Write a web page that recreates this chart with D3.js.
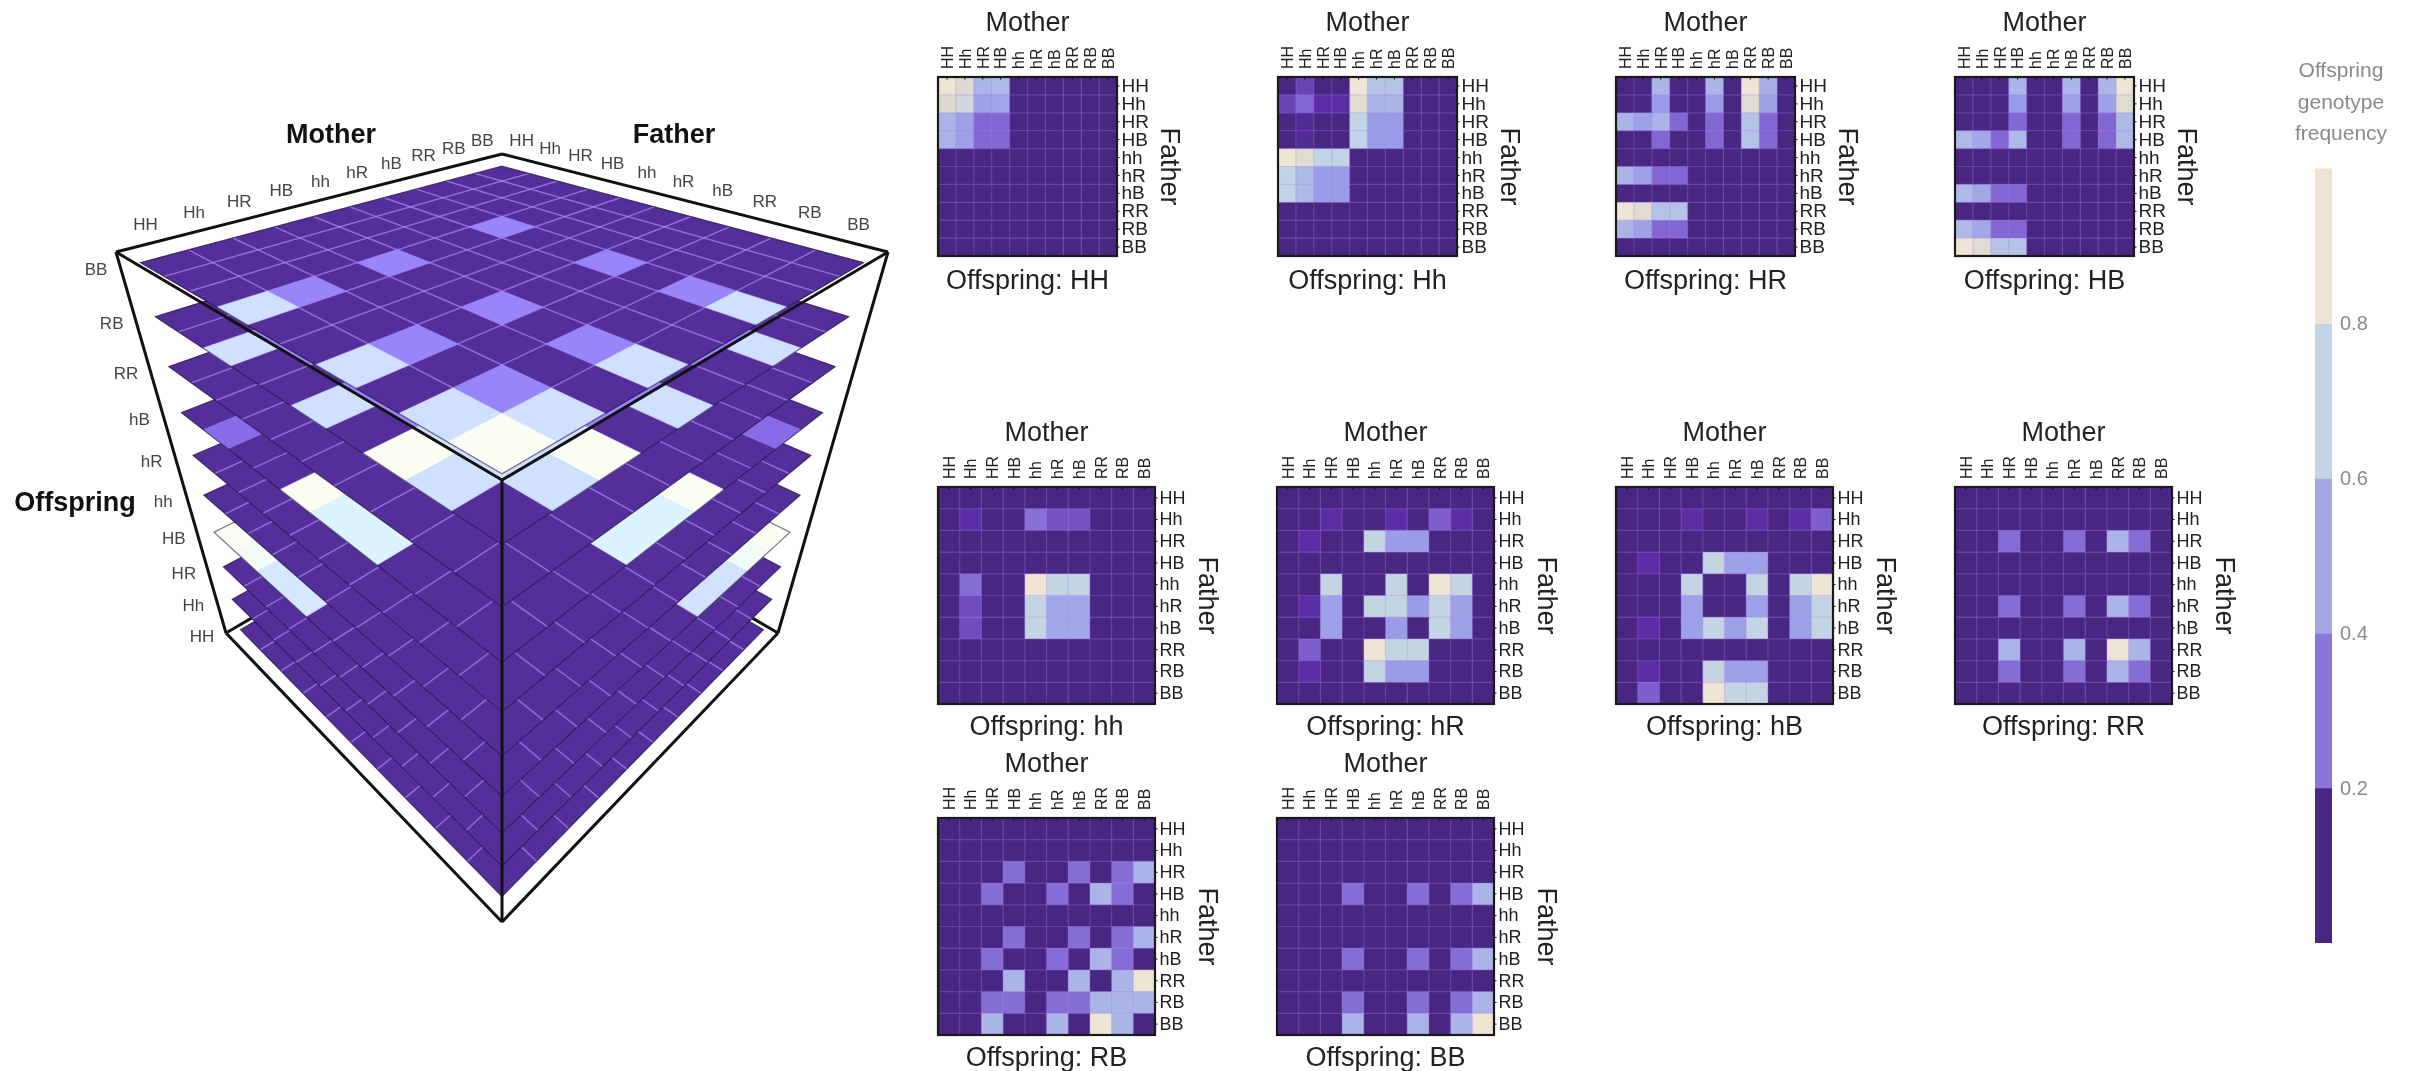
<!DOCTYPE html>
<html>
<head>
<meta charset="utf-8">
<script src="https://cdnjs.cloudflare.com/ajax/libs/d3/7.8.5/d3.min.js"></script>
<style>
    html, body { margin: 0; background: #fff; }
    svg { display: block; font-family: "Liberation Sans", Arial, sans-serif; filter: blur(.6px); }
</style>
</head>
<body>
<div id="chart"></div>
<script>
const genotypes = ["HH", "Hh", "HR", "HB", "hh", "hR", "hB", "RR", "RB", "BB"]
const legendTicks = [0.2, 0.4, 0.6, 0.8]

// offspring frequency: rows = father, columns = mother
const freqHH = [
    [1, .82, .5, .52, 0, 0, 0, 0, 0, 0],
    [.82, .7, .42, .44, 0, 0, 0, 0, 0, 0],
    [.5, .42, .25, .25, 0, 0, 0, 0, 0, 0],
    [.5, .42, .25, .25, 0, 0, 0, 0, 0, 0],
    [0, 0, 0, 0, 0, 0, 0, 0, 0, 0],
    [0, 0, 0, 0, 0, 0, 0, 0, 0, 0],
    [0, 0, 0, 0, 0, 0, 0, 0, 0, 0],
    [0, 0, 0, 0, 0, 0, 0, 0, 0, 0],
    [0, 0, 0, 0, 0, 0, 0, 0, 0, 0],
    [0, 0, 0, 0, 0, 0, 0, 0, 0, 0]
]
const freqHh = [
    [0, .15, 0, 0, 1, .55, .55, 0, 0, 0],
    [.15, .25, .1, .1, .85, .5, .5, 0, 0, 0],
    [0, .05, 0, 0, .6, .4, .4, 0, 0, 0],
    [0, .05, 0, 0, .6, .4, .4, 0, 0, 0],
    [1, .85, .6, .6, 0, 0, 0, 0, 0, 0],
    [.6, .52, .4, .4, 0, 0, 0, 0, 0, 0],
    [.6, .52, .4, .4, 0, 0, 0, 0, 0, 0],
    [0, 0, 0, 0, 0, 0, 0, 0, 0, 0],
    [0, 0, 0, 0, 0, 0, 0, 0, 0, 0],
    [0, 0, 0, 0, 0, 0, 0, 0, 0, 0]
]
const freqHR = [
    [0, 0, .5, 0, 0, .5, 0, 1, .48, 0],
    [0, 0, .4, 0, 0, .4, 0, .85, .42, 0],
    [.5, .42, .5, .25, 0, .25, 0, .55, .25, 0],
    [0, 0, .25, 0, 0, .25, 0, .55, .25, 0],
    [0, 0, 0, 0, 0, 0, 0, 0, 0, 0],
    [.5, .42, .25, .25, 0, 0, 0, 0, 0, 0],
    [0, 0, 0, 0, 0, 0, 0, 0, 0, 0],
    [1, .85, .55, .55, 0, 0, 0, 0, 0, 0],
    [.5, .42, .25, .25, 0, 0, 0, 0, 0, 0],
    [0, 0, 0, 0, 0, 0, 0, 0, 0, 0]
]
const freqHB = [
    [0, 0, 0, .5, 0, 0, .5, 0, .5, 1],
    [0, 0, 0, .4, 0, 0, .42, 0, .42, .85],
    [0, 0, 0, .25, 0, 0, .25, 0, .25, .52],
    [.52, .45, .25, .52, 0, 0, .25, 0, .25, .52],
    [0, 0, 0, 0, 0, 0, 0, 0, 0, 0],
    [0, 0, 0, 0, 0, 0, 0, 0, 0, 0],
    [.52, .45, .25, .25, 0, 0, 0, 0, 0, 0],
    [0, 0, 0, 0, 0, 0, 0, 0, 0, 0],
    [.52, .45, .25, .25, 0, 0, 0, 0, 0, 0],
    [1, .85, .55, .55, 0, 0, 0, 0, 0, 0]
]
const freqhh = [
    [0, 0, 0, 0, 0, 0, 0, 0, 0, 0],
    [0, .1, 0, 0, .28, .18, .18, 0, 0, 0],
    [0, 0, 0, 0, 0, 0, 0, 0, 0, 0],
    [0, 0, 0, 0, 0, 0, 0, 0, 0, 0],
    [0, .27, 0, 0, 1, .62, .62, 0, 0, 0],
    [0, .17, 0, 0, .62, .45, .45, 0, 0, 0],
    [0, .17, 0, 0, .62, .45, .45, 0, 0, 0],
    [0, 0, 0, 0, 0, 0, 0, 0, 0, 0],
    [0, 0, 0, 0, 0, 0, 0, 0, 0, 0],
    [0, 0, 0, 0, 0, 0, 0, 0, 0, 0]
]
const freqhR = [
    [0, 0, 0, 0, 0, 0, 0, 0, 0, 0],
    [0, 0, .1, 0, 0, .1, 0, .22, .1, 0],
    [0, .1, 0, 0, .62, .4, .4, 0, 0, 0],
    [0, 0, 0, 0, 0, 0, 0, 0, 0, 0],
    [0, 0, .62, 0, 0, .62, 0, 1, .62, 0],
    [0, .1, .42, 0, .62, .62, .4, .62, .42, 0],
    [0, 0, .42, 0, 0, .4, 0, .62, .42, 0],
    [0, .22, 0, 0, 1, .62, .62, 0, 0, 0],
    [0, .1, 0, 0, .62, .4, .4, 0, 0, 0],
    [0, 0, 0, 0, 0, 0, 0, 0, 0, 0]
]
const freqhB = [
    [0, 0, 0, 0, 0, 0, 0, 0, 0, 0],
    [0, 0, 0, .1, 0, 0, .1, 0, .1, .22],
    [0, 0, 0, 0, 0, 0, 0, 0, 0, 0],
    [0, .1, 0, 0, .62, .42, .42, 0, 0, 0],
    [0, 0, 0, .62, 0, 0, .62, 0, .62, 1],
    [0, 0, 0, .42, 0, 0, .42, 0, .42, .62],
    [0, .1, 0, .42, .62, .42, .62, 0, .42, .62],
    [0, 0, 0, 0, 0, 0, 0, 0, 0, 0],
    [0, .1, 0, 0, .62, .42, .42, 0, 0, 0],
    [0, .22, 0, 0, 1, .62, .62, 0, 0, 0]
]
const freqRR = [
    [0, 0, 0, 0, 0, 0, 0, 0, 0, 0],
    [0, 0, 0, 0, 0, 0, 0, 0, 0, 0],
    [0, 0, .27, 0, 0, .27, 0, .5, .27, 0],
    [0, 0, 0, 0, 0, 0, 0, 0, 0, 0],
    [0, 0, 0, 0, 0, 0, 0, 0, 0, 0],
    [0, 0, .27, 0, 0, .27, 0, .5, .27, 0],
    [0, 0, 0, 0, 0, 0, 0, 0, 0, 0],
    [0, 0, .5, 0, 0, .5, 0, 1, .5, 0],
    [0, 0, .27, 0, 0, .27, 0, .5, .27, 0],
    [0, 0, 0, 0, 0, 0, 0, 0, 0, 0]
]
const freqRB = [
    [0, 0, 0, 0, 0, 0, 0, 0, 0, 0],
    [0, 0, 0, 0, 0, 0, 0, 0, 0, 0],
    [0, 0, 0, .27, 0, 0, .27, 0, .27, .5],
    [0, 0, .27, 0, 0, .27, 0, .5, .27, 0],
    [0, 0, 0, 0, 0, 0, 0, 0, 0, 0],
    [0, 0, 0, .27, 0, 0, .27, 0, .27, .5],
    [0, 0, .27, 0, 0, .27, 0, .5, .27, 0],
    [0, 0, 0, .5, 0, 0, .5, 0, .5, 1],
    [0, 0, .27, .27, 0, .27, .27, .5, .5, .5],
    [0, 0, .5, 0, 0, .5, 0, 1, .5, 0]
]
const freqBB = [
    [0, 0, 0, 0, 0, 0, 0, 0, 0, 0],
    [0, 0, 0, 0, 0, 0, 0, 0, 0, 0],
    [0, 0, 0, 0, 0, 0, 0, 0, 0, 0],
    [0, 0, 0, .27, 0, 0, .27, 0, .27, .5],
    [0, 0, 0, 0, 0, 0, 0, 0, 0, 0],
    [0, 0, 0, 0, 0, 0, 0, 0, 0, 0],
    [0, 0, 0, .27, 0, 0, .27, 0, .27, .5],
    [0, 0, 0, 0, 0, 0, 0, 0, 0, 0],
    [0, 0, 0, .27, 0, 0, .27, 0, .27, .5],
    [0, 0, 0, .5, 0, 0, .5, 0, .5, 1]
]
const offspringFreq = [freqHH, freqHh, freqHR, freqHB, freqhh, freqhR, freqhB, freqRR, freqRB, freqBB]

const WIDTH = 2410, HEIGHT = 1071

/* COLOURS */
const heatColor = d3.scaleLinear()
    .domain([0, .1, .2, .3, .4, .5, .6, .8, 1])
    .range(["#4a2683", "#5a2fa5", "#7a58c8", "#8a76dc", "#9a9ce8", "#aab4e6", "#c0d4e5", "#dcd9d2", "#ede4d3"])
const litColor = d3.scaleLinear()
    .domain([0, .1, .2, .27, .4, .5, .62, .85, 1])
    .range(["#542e99", "#5a33a5", "#8262df", "#9885fb", "#b0b0ff", "#d0e0ff", "#dbf4ff", "#f2fbf5", "#fbfff3"])
const legendColor = d3.scaleThreshold()
    .domain(legendTicks)
    .range(["#4a2683", "#8a76dc", "#a5a8e0", "#c0d4e5", "#ede4d3"])

const svg = d3.select("#chart")
    .append("svg")
    .attr("width", WIDTH)
    .attr("height", HEIGHT)

/* 3D CUBE */
const camera = { cx: 502, a: 276, b: -.285, c: -.285, d: 26.2, e: -452.8, f: 633 }

function project(am, af, z) {
    const h = (am - af) / 2, g = (am + af) / 2
    const w = 1 + camera.b * g + camera.c * z
    return [camera.cx + camera.a * h / w, (camera.d * g + camera.e * z + camera.f) / w]
}
const line3d = d3.line()

const layerZ = d3.scalePoint().domain(genotypes).range([.012, .98])
const inPlane = d3.scaleBand().domain(genotypes).range([-.944, .944])
const edgePlane = d3.scaleBand().domain(genotypes).range([-1, 1])

const cube = svg.append("g").attr("class", "cube")

// back edges of the box sit behind the layers
const backEdges = [
    [[-1, 1, 0], [-1, -1, 0]],
    [[1, -1, 0], [-1, -1, 0]]
]
drawEdges(backEdges, "frame-back")

offspringFreq.forEach((matrix, k) => {
    const z = layerZ(genotypes[k])
    const layer = cube.append("g").attr("class", "cube__layer")
    const cells = matrix.flatMap((row, fi) => row.map((value, mi) => ({ value, mi, fi })))

    function drawCells(subset, name) {
        layer.selectAll(`path.${name}`)
            .data(subset)
            .enter()
            .append("path")
            .attr("class", name)
            .attr("d", d => {
                const m0 = inPlane(genotypes[d.mi]), m1 = m0 + inPlane.bandwidth()
                const f0 = inPlane(genotypes[d.fi]), f1 = f0 + inPlane.bandwidth()
                return line3d([project(m0, f0, z), project(m1, f0, z), project(m1, f1, z), project(m0, f1, z)]) + "Z"
            })
            .attr("fill", d => litColor(d.value))
            .attr("stroke", d => litColor(d.value))
            .attr("stroke-width", .6)
    }

    drawCells(cells.filter(d => d.value < .15), "cell-dark")

    // grid lines go over the dark cells only, bright cells cover them
    genotypes.slice(1).forEach(g => {
        const p = inPlane(g)
        layer.append("path")
            .attr("d", line3d([project(p, -.944, z), project(p, .944, z)]))
            .attr("stroke", "rgba(180,135,255,.65)")
            .attr("stroke-width", 1.5)
        layer.append("path")
            .attr("d", line3d([project(-.944, p, z), project(.944, p, z)]))
            .attr("stroke", "rgba(180,135,255,.65)")
            .attr("stroke-width", 1.5)
    })

    drawCells(cells.filter(d => d.value >= .15), "cell-bright")

    // layer outline
    layer.append("path")
        .attr("d", line3d([project(-.944, -.944, z), project(.944, -.944, z), project(.944, .944, z), project(-.944, .944, z)]) + "Z")
        .attr("fill", "none")
        .attr("stroke", "rgba(35,20,65,.6)")
        .attr("stroke-width", 1.2)
})

const frameEdges = [
    [[-1, 1, 1], [-1, -1, 1]],
    [[-1, -1, 1], [1, -1, 1]],
    [[-1, 1, 1], [1, 1, 1]],
    [[1, -1, 1], [1, 1, 1]],
    [[1, 1, 1], [1, 1, 0]],
    [[-1, 1, 1], [-1, 1, 0]],
    [[1, -1, 1], [1, -1, 0]],
    [[-1, 1, 0], [1, 1, 0]],
    [[1, -1, 0], [1, 1, 0]]
]
drawEdges(frameEdges, "frame")

function drawEdges(edges, name) {
    cube.selectAll(`path.${name}`)
        .data(edges)
        .enter()
        .append("path")
        .attr("class", name)
        .attr("d", d => line3d(d.map(p => project(p[0], p[1], p[2]))))
        .attr("stroke", "#111")
        .attr("stroke-width", 3)
        .attr("fill", "none")
}

/* CUBE LABELS */
const cubeTick = { fill: "#444", size: 17 }

function edgeLabel(p) {
    const off = p[0] - camera.cx
    const sign = off < 0 ? -1 : 1
    return `translate(${camera.cx + off * .975 + sign * 6}, ${p[1] - 11 - 4 * Math.abs(off) / 360})`
}

cube.selectAll("text.mother-tick")
    .data(genotypes)
    .enter()
    .append("text")
    .attr("class", "mother-tick")
    .attr("transform", (d, i) => edgeLabel(project(-1, edgePlane(genotypes[9 - i]) + edgePlane.bandwidth() / 2, 1)))
    .attr("text-anchor", "middle")
    .attr("font-size", cubeTick.size)
    .attr("fill", cubeTick.fill)
    .text(d => d)

cube.selectAll("text.father-tick")
    .data(genotypes)
    .enter()
    .append("text")
    .attr("class", "father-tick")
    .attr("transform", d => edgeLabel(project(edgePlane(d) + edgePlane.bandwidth() / 2, -1, 1)))
    .attr("text-anchor", "middle")
    .attr("font-size", cubeTick.size)
    .attr("fill", cubeTick.fill)
    .text(d => d)

cube.selectAll("text.offspring-tick")
    .data(genotypes)
    .enter()
    .append("text")
    .attr("class", "offspring-tick")
    .attr("transform", d => {
        const p = project(-1, 1, layerZ(d))
        return `translate(${p[0] - 23}, ${p[1] + 12})`
    })
    .attr("text-anchor", "middle")
    .attr("font-size", cubeTick.size)
    .attr("fill", cubeTick.fill)
    .text(d => d)

const cubeTitles = [["Mother", 331, 143], ["Father", 674, 143], ["Offspring", 75, 511]]
cube.selectAll("text.cube-title")
    .data(cubeTitles)
    .enter()
    .append("text")
    .attr("class", "cube-title")
    .attr("x", d => d[1])
    .attr("y", d => d[2])
    .attr("text-anchor", "middle")
    .attr("font-size", 27)
    .attr("font-weight", "bold")
    .attr("fill", "#111")
    .text(d => d[0])

/* HEATMAP PANELS */
const panelLeft = [938, 1278, 1616, 1955, 938, 1277, 1616, 1955, 938, 1277]
const panelTop = [77, 77, 77, 77, 487, 487, 487, 487, 818, 818]
const panelSize = [179, 179, 179, 179, 217, 217, 217, 217, 217, 217]

offspringFreq.forEach((matrix, k) => drawPanel(matrix, genotypes[k], panelLeft[k], panelTop[k], panelSize[k]))

function drawPanel(matrix, name, left, top, size) {
    const x = d3.scaleBand().domain(genotypes).range([0, size])
    const y = d3.scaleBand().domain(genotypes).range([0, size])
    const panel = svg.append("g")
        .attr("class", "panel")
        .attr("transform", `translate(${left}, ${top})`)

    const cells = matrix.flatMap((row, fi) => row.map((value, mi) => ({ value, mi, fi })))
    panel.selectAll("rect")
        .data(cells)
        .enter()
        .append("rect")
        .attr("x", d => x(genotypes[d.mi]))
        .attr("y", d => y(genotypes[d.fi]))
        .attr("width", x.bandwidth() + .5)
        .attr("height", y.bandwidth() + .5)
        .attr("fill", d => heatColor(d.value))

    // grid lines
    panel.selectAll("line.grid-x")
        .data(genotypes.slice(1))
        .enter()
        .append("line")
        .attr("class", "grid-x")
        .attr("x1", d => x(d))
        .attr("x2", d => x(d))
        .attr("y1", 0)
        .attr("y2", size)
        .attr("stroke", "rgba(175,120,235,.3)")
        .attr("stroke-width", 1.2)
    panel.selectAll("line.grid-y")
        .data(genotypes.slice(1))
        .enter()
        .append("line")
        .attr("class", "grid-y")
        .attr("x1", 0)
        .attr("x2", size)
        .attr("y1", d => y(d))
        .attr("y2", d => y(d))
        .attr("stroke", "rgba(175,120,235,.3)")
        .attr("stroke-width", 1.2)

    const topAxis = panel.append("g")
        .call(d3.axisTop(x).tickSize(-2.5).tickPadding(7))
    topAxis.selectAll("text")
        .attr("transform", "rotate(-90)")
        .attr("x", 8)
        .attr("y", 0)
        .attr("dy", "0.36em")
        .attr("text-anchor", "start")
        .attr("font-size", 16)
        .attr("font-family", "Liberation Sans")
        .attr("fill", "#222")

    const rightAxis = panel.append("g")
        .attr("transform", `translate(${size}, 0)`)
        .call(d3.axisRight(y).tickSize(2.5).tickPadding(2))
    rightAxis.selectAll("text")
        .attr("font-size", size > 200 ? 18 : 19)
        .attr("font-family", "Liberation Sans")
        .attr("fill", "#222")

    topAxis.select(".domain").remove()
    rightAxis.select(".domain").remove()

    panel.append("rect")
        .attr("width", size)
        .attr("height", size)
        .attr("fill", "none")
        .attr("stroke", "#1a1a1a")
        .attr("stroke-width", 2.2)

    panel.append("text")
        .attr("x", size / 2)
        .attr("y", -46)
        .attr("text-anchor", "middle")
        .attr("font-size", 27)
        .attr("fill", "#222")
        .text("Mother")

    panel.append("text")
        .attr("transform", `translate(${size + 44}, ${size / 2}) rotate(90)`)
        .attr("text-anchor", "middle")
        .attr("font-size", 27)
        .attr("fill", "#222")
        .text("Father")

    panel.append("text")
        .attr("x", size / 2)
        .attr("y", size + (size > 200 ? 31 : 33))
        .attr("text-anchor", "middle")
        .attr("font-size", 27)
        .attr("fill", "#222")
        .text(`Offspring: ${name}`)
}

/* LEGEND */
const legendScale = d3.scaleLinear().domain([0, 1]).range([943, 168.5])
const legendEdges = [0, ...legendTicks, 1]
const legend = svg.append("g").attr("class", "legend")

legend.selectAll("rect")
    .data(d3.pairs(legendEdges))
    .enter()
    .append("rect")
    .attr("x", 2315)
    .attr("width", 17)
    .attr("y", d => legendScale(d[1]))
    .attr("height", d => legendScale(d[0]) - legendScale(d[1]))
    .attr("fill", d => legendColor((d[0] + d[1]) / 2))

const legendAxis = legend.append("g")
    .attr("transform", "translate(2332, 0)")
    .call(d3.axisRight(legendScale).tickValues(legendTicks).tickSize(0).tickPadding(8).tickFormat(d3.format(".1f")))
legendAxis.select(".domain").remove()
legendAxis.selectAll("text")
    .attr("font-size", 20)
    .attr("font-family", "Liberation Sans")
    .attr("fill", "#8a8a8a")

const legendTitle = ["Offspring", "genotype", "frequency"]
legend.selectAll("text.legend-title")
    .data(legendTitle)
    .enter()
    .append("text")
    .attr("class", "legend-title")
    .attr("x", 2341)
    .attr("y", (d, i) => 77 + i * 31.5)
    .attr("text-anchor", "middle")
    .attr("font-size", 21)
    .attr("fill", "#8a8a8a")
    .text(d => d)
</script>
</body>
</html>
